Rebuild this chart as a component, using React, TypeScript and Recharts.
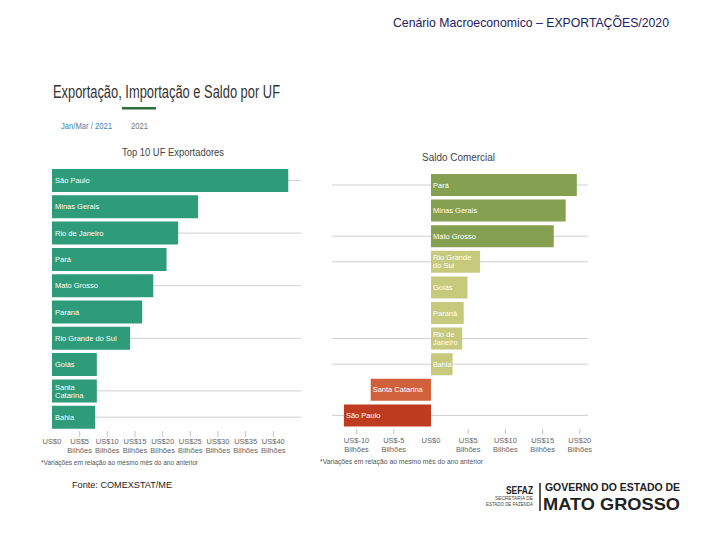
import React from "react";
import { Bar, BarChart, Cell, LabelList, XAxis, YAxis } from "recharts";

const FONT = "'Liberation Sans', Arial, sans-serif";

// Top 10 exporting states, US$ billions
const EXPORT_STATES = [
  "São Paulo",
  "Minas Gerais",
  "Rio de Janeiro",
  "Pará",
  "Mato Grosso",
  "Paraná",
  "Rio Grande do Sul",
  "Goiás",
  "Santa Catarina",
  "Bahia",
];
const EXPORT_VALUES = [42.7, 26.4, 22.8, 20.7, 18.3, 16.3, 14.1, 8.1, 8.1, 7.8];
const EXPORT_GRID_STATES = ["São Paulo", "Rio de Janeiro", "Mato Grosso", "Rio Grande do Sul", "Santa Catarina", "Bahia"];
const EXPORT_TICKS = [0, 5, 10, 15, 20, 25, 30, 35, 40];

// Trade balance per state, US$ billions
const BALANCE_STATES = [
  "Pará",
  "Minas Gerais",
  "Mato Grosso",
  "Rio Grande do Sul",
  "Goiás",
  "Paraná",
  "Rio de Janeiro",
  "Bahia",
  "Santa Catarina",
  "São Paulo",
];
const BALANCE_VALUES = [19.6, 18.1, 16.5, 6.6, 4.9, 4.4, 4.2, 2.9, -8.1, -11.7];
const BALANCE_GRID_STATES = ["Pará", "Mato Grosso", "Rio Grande do Sul", "Rio de Janeiro", "Bahia", "São Paulo"];
const BALANCE_TICKS = [-10, -5, 0, 5, 10, 15, 20];

const exportData = EXPORT_STATES.map((state, i) => ({ state, value: EXPORT_VALUES[i] }));
const balanceData = BALANCE_STATES.map((state, i) => ({ state, value: BALANCE_VALUES[i] }));

function balanceColor(v: number) {
  if (v < -10) return "#bf3b1f";
  if (v < 0) return "#d0613b";
  if (v > 10) return "#86a052";
  return "#c7c97c";
}

function tickLines(v: number): string[] {
  if (v === 0) return ["US$0"];
  return [`US$${v}`, "Bilhões"];
}

function makeMoneyTick(markTop: number, markLen: number, labelTop: number) {
  return function MoneyTick(props: any) {
    const { x, y, payload } = props;
    const lines = tickLines(payload.value);
    return (
      <g>
        {payload.value !== 0 && (
          <line x1={x} x2={x} y1={y + markTop} y2={y + markTop + markLen} stroke="#c4c4c4" />
        )}
        <text x={x} y={y + labelTop} textAnchor="middle" fontSize={7.5} fill="#666" fontFamily={FONT}>
          {lines.map((l, i) => (
            <tspan key={i} x={x} dy={i === 0 ? 0 : 8.5}>
              {l}
            </tspan>
          ))}
        </text>
      </g>
    );
  };
}

// horizontal grid line through the middle of selected bands, drawn behind the bars
function makeGridBackground(data: { state: string }[], gridStates: string[]) {
  return function GridBackground(props: any) {
    const { x, y, width, height, index } = props;
    const state = props.payload?.state ?? data[index]?.state;
    if (!gridStates.includes(state)) return <g />;
    const cy = y + height / 2;
    return <line x1={x} x2={x + width} y1={cy} y2={cy} stroke="#cfcfcf" />;
  };
}

function splitMiddle(text: string): string[] {
  const mid = text.length / 2;
  let best = -1;
  for (let i = 0; i < text.length; i++) {
    if (text[i] === " " && (best < 0 || Math.abs(i - mid) < Math.abs(best - mid))) best = i;
  }
  if (best < 0) return [text];
  return [text.slice(0, best), text.slice(best + 1)];
}

function makeBarLabel(fontSize: number, pad: number) {
  return function BarLabel(props: any) {
    const { x, y, width, height, value } = props;
    const left = Math.min(x, x + width);
    const barW = Math.abs(width);
    const text = String(value);
    const estW = text.length * fontSize * 0.5;
    const lines = estW > barW ? splitMiddle(text) : [text];
    const lineH = fontSize + 0.5;
    const startY = y + height / 2 - ((lines.length - 1) * lineH) / 2 + fontSize * 0.35;
    const room = barW - pad - 1;
    if (lines.length === 1) {
      // squeeze a short single line that would spill past the bar end
      const tooWide = estW > room;
      return (
        <text
          x={left + pad}
          y={startY}
          fontSize={fontSize}
          fill="#fff"
          fontFamily={FONT}
          textLength={tooWide ? room : undefined}
          lengthAdjust={tooWide ? "spacingAndGlyphs" : undefined}
        >
          {text}
        </text>
      );
    }
    return (
      <text x={left + pad} y={startY} fontSize={fontSize} fill="#fff" fontFamily={FONT}>
        {lines.map((l, i) => (
          <tspan key={i} x={left + pad} dy={i === 0 ? 0 : lineH}>
            {l}
          </tspan>
        ))}
      </text>
    );
  };
}

function ExportChart() {
  return (
    <BarChart
      width={270}
      height={320}
      data={exportData}
      layout="vertical"
      margin={{ top: 17, right: 9, left: 12, bottom: 10 }}
    >
      <XAxis
        type="number"
        dataKey="value"
        domain={[0, 45]}
        ticks={EXPORT_TICKS}
        axisLine={false}
        tickLine={false}
        tickSize={0}
        tickMargin={0}
        height={30}
        interval={0}
        tick={makeMoneyTick(1, 6, 14)}
      />
      <YAxis
        type="category"
        dataKey="state"
        width={0}
        tick={false}
        tickLine={false}
        axisLine={{ stroke: "#333" }}
      />
      <Bar
        dataKey="value"
        fill="#2e9b79"
        barSize={23}
        background={makeGridBackground(exportData, EXPORT_GRID_STATES)}
        isAnimationActive={false}
      >
        <LabelList dataKey="state" content={makeBarLabel(7.5, 3)} />
      </Bar>
    </BarChart>
  );
}

function BalanceChart() {
  return (
    <BarChart
      width={280}
      height={310}
      data={balanceData}
      layout="vertical"
      margin={{ top: 12, right: 12, left: 12, bottom: 12 }}
    >
      <XAxis
        type="number"
        dataKey="value"
        domain={[-13.3, 21.1]}
        ticks={BALANCE_TICKS}
        axisLine={false}
        tickLine={false}
        tickSize={0}
        tickMargin={0}
        height={30}
        interval={0}
        tick={makeMoneyTick(1, 5, 15)}
      />
      <YAxis type="category" dataKey="state" hide />
      <Bar
        dataKey="value"
        barSize={22}
        background={makeGridBackground(balanceData, BALANCE_GRID_STATES)}
        isAnimationActive={false}
      >
        {balanceData.map((d) => (
          <Cell key={d.state} fill={balanceColor(d.value)} />
        ))}
        <LabelList dataKey="state" content={makeBarLabel(7.5, 2)} />
      </Bar>
    </BarChart>
  );
}

export default function App() {
  return (
    <div style={{ position: "absolute", left: 0, top: 0, width: 720, height: 540, background: "#fff", overflow: "hidden" }}>
      <svg width={720} height={540} style={{ position: "absolute", left: 0, top: 0 }} fontFamily={FONT}>
        <text x={393} y={27} fontSize={13} fill="#1c2160" textLength={276} lengthAdjust="spacingAndGlyphs">
          Cenário Macroeconomico – EXPORTAÇÕES/2020
        </text>
        <text x={53} y={98} fontSize={17.5} fill="#333" textLength={227} lengthAdjust="spacingAndGlyphs">
          Exportação, Importação e Saldo por UF
        </text>
        <rect x={122} y={107} width={34} height={2.5} fill="#2f6e3b" />
        <text x={61} y={129} fontSize={9} fill="#4a7fa8" textLength={51} lengthAdjust="spacingAndGlyphs">
          Jan/Mar / 2021
        </text>
        <text x={131} y={129} fontSize={9} fill="#777" textLength={17} lengthAdjust="spacingAndGlyphs">
          2021
        </text>
        <text x={122} y={156} fontSize={10} fill="#444" textLength={102} lengthAdjust="spacingAndGlyphs">
          Top 10 UF Exportadores
        </text>
        <text x={422} y={161} fontSize={10} fill="#444" textLength={73} lengthAdjust="spacingAndGlyphs">
          Saldo Comercial
        </text>
        <text x={41} y={465} fontSize={8} fill="#555" textLength={157} lengthAdjust="spacingAndGlyphs">
          *Variações em relação ao mesmo mês do ano anterior
        </text>
        <text x={320} y={464} fontSize={8} fill="#555" textLength={163} lengthAdjust="spacingAndGlyphs">
          *Variações em relação ao mesmo mês do ano anterior
        </text>
        <text x={72} y={488} fontSize={9} fill="#222" textLength={100} lengthAdjust="spacingAndGlyphs">
          Fonte: COMEXSTAT/ME
        </text>
        <text x={506} y={494} fontSize={10} fontWeight="bold" fill="#222" textLength={27} lengthAdjust="spacingAndGlyphs">
          SEFAZ
        </text>
        <text x={495} y={500} fontSize={4.5} fill="#444" textLength={38} lengthAdjust="spacingAndGlyphs">
          SECRETARIA DE
        </text>
        <text x={486} y={506} fontSize={4.5} fill="#444" textLength={47} lengthAdjust="spacingAndGlyphs">
          ESTADO DE FAZENDA
        </text>
        <line x1={540} x2={540} y1={483} y2={511} stroke="#222" strokeWidth={1.5} />
        <text x={545} y={491} fontSize={11.5} fontWeight="bold" fill="#222" textLength={135} lengthAdjust="spacingAndGlyphs">
          GOVERNO DO ESTADO DE
        </text>
        <text x={543} y={510} fontSize={17} fontWeight="bold" fill="#222" textLength={137} lengthAdjust="spacingAndGlyphs">
          MATO GROSSO
        </text>
      </svg>
      <div style={{ position: "absolute", left: 40, top: 150 }}>
        <ExportChart />
      </div>
      <div style={{ position: "absolute", left: 320, top: 160 }}>
        <BalanceChart />
      </div>
    </div>
  );
}
